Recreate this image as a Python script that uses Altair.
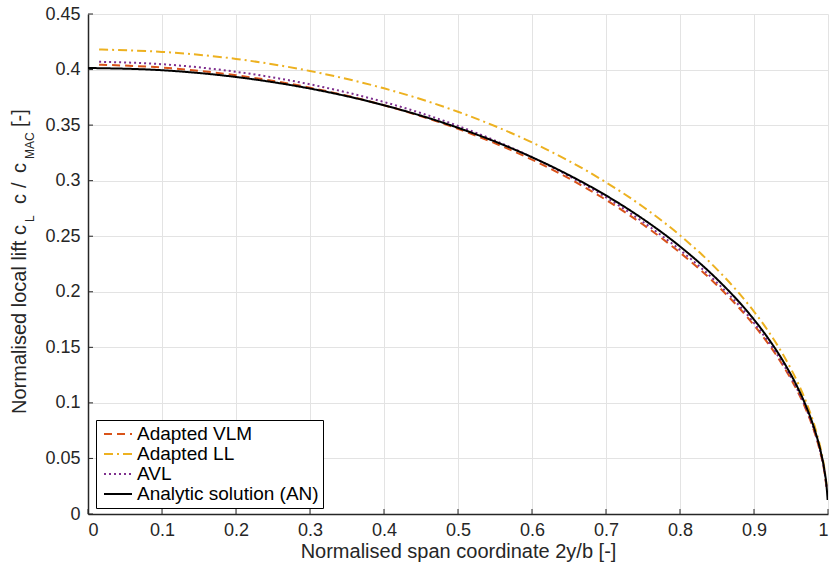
import altair as alt
import pandas as pd

series_names = ["Adapted VLM", "Adapted LL", "AVL", "Analytic solution (AN)"]
series_colors = ["#D95319", "#EDB120", "#7E2F8E", "#000000"]
series_dashes = [[8, 5], [9, 4, 2, 4], [2, 3], [1, 0]]

# numerical methods
x_num = [0.015, 0.1, 0.2, 0.3, 0.4, 0.5, 0.6, 0.65, 0.7, 0.75, 0.8, 0.85, 0.88,
         0.9, 0.92, 0.94, 0.96, 0.97, 0.98, 0.985, 0.99, 0.995, 0.998]
vlm = [0.4044, 0.4018, 0.3949, 0.3837, 0.3679, 0.3466, 0.3189, 0.3020, 0.2827,
       0.2605, 0.2353, 0.2059, 0.1854, 0.1699, 0.1526, 0.1327, 0.1088, 0.0944,
       0.0771, 0.0667, 0.0543, 0.0383, 0.0241]
ll = [0.4180, 0.4159, 0.4096, 0.3987, 0.3831, 0.3620, 0.3344, 0.3177, 0.2985,
      0.2765, 0.2508, 0.2202, 0.1985, 0.1822, 0.1638, 0.1426, 0.1170, 0.1016,
      0.0832, 0.0721, 0.0590, 0.0417, 0.0264]
avl = [0.4070, 0.4048, 0.3980, 0.3867, 0.3708, 0.3493, 0.3211, 0.3041, 0.2850,
       0.2628, 0.2377, 0.2082, 0.1876, 0.1720, 0.1545, 0.1343, 0.1102, 0.0955,
       0.0781, 0.0677, 0.0552, 0.0389, 0.0244]
# analytic solution
x_an = [0.0, 0.1, 0.2, 0.3, 0.4, 0.5, 0.6, 0.65, 0.7, 0.75, 0.8, 0.85, 0.88,
        0.9, 0.92, 0.94, 0.96, 0.97, 0.98, 0.985, 0.99, 0.995, 0.998, 0.9995]
an = [0.4014, 0.3994, 0.3933, 0.3829, 0.3679, 0.3476, 0.3211, 0.3050, 0.2867,
      0.2655, 0.2408, 0.2114, 0.1907, 0.1750, 0.1573, 0.1369, 0.1124, 0.0976,
      0.0799, 0.0693, 0.0566, 0.0401, 0.0254, 0.0127]

x_ticks = [0, 0.1, 0.2, 0.3, 0.4, 0.5, 0.6, 0.7, 0.8, 0.9, 1]
y_ticks = [0, 0.05, 0.1, 0.15, 0.2, 0.25, 0.3, 0.35, 0.4, 0.45]

x_title = "Normalised span coordinate 2y/b [-]"
y_title_parts = ["Normalised local lift c", "L", "c", "/", "c", "MAC", "[-]"]

rows = []
for name, xs, ys in [(series_names[0], x_num, vlm), (series_names[1], x_num, ll),
                     (series_names[2], x_num, avl), (series_names[3], x_an, an)]:
    for xv, yv in zip(xs, ys):
        rows.append({"x": xv, "y": yv, "series": name})
df = pd.DataFrame(rows)

FONT = "Liberation Sans"
DARK = "#262626"

xscale = alt.Scale(domain=[0, 1], nice=False, zero=False)
yscale = alt.Scale(domain=[0, 0.45], nice=False, zero=False)

xaxis = alt.Axis(values=x_ticks, format="~g", title=x_title,
                 labelPadding=7, titleY=43, titleBaseline="alphabetic")
yaxis = alt.Axis(values=y_ticks, format="~g", title=None, labelPadding=8)

legend = alt.Legend(
    title=None, orient="none", legendX=8, legendY=406,
    fillColor="white", strokeColor="black", padding=4,
    labelFont=FONT, labelFontSize=19, labelColor="black", labelOffset=4,
    symbolType="stroke", symbolSize=784, symbolStrokeWidth=2, symbolOffset=3,
    rowPadding=0, clipHeight=20, labelLimit=400,
)

lines = alt.Chart(df).mark_line(strokeWidth=2, clip=True, interpolate="monotone").encode(
    x=alt.X("x:Q", scale=xscale, axis=xaxis),
    y=alt.Y("y:Q", scale=yscale, axis=yaxis),
    color=alt.Color("series:N", scale=alt.Scale(domain=series_names, range=series_colors),
                    legend=legend),
    strokeDash=alt.StrokeDash("series:N", scale=alt.Scale(domain=series_names, range=series_dashes),
                              legend=legend),
)

xt = alt.Chart(pd.DataFrame({"x": x_ticks})).mark_rule(color=DARK, strokeWidth=1).encode(
    x=alt.X("x:Q", scale=xscale, axis=xaxis), y=alt.value(500), y2=alt.value(495))
yt = alt.Chart(pd.DataFrame({"y": y_ticks})).mark_rule(color=DARK, strokeWidth=1).encode(
    y=alt.Y("y:Q", scale=yscale, axis=yaxis), x=alt.value(0), x2=alt.value(5))

# y-axis title built from pieces (sub-scripts)
title_layout = [(-62, 400, 20), (-54, 208, 12), (-62, 190, 20), (-62, 174, 20),
                (-62, 159, 20), (-54, 145, 12), (-62, 113, 20)]
title_layers = []
for part, (px, py, fs) in zip(y_title_parts, title_layout):
    title_layers.append(
        alt.Chart(pd.DataFrame({"t": [part]})).mark_text(
            angle=270, align="left", baseline="alphabetic", font=FONT,
            fontSize=fs, color=DARK).encode(text="t:N", x=alt.value(px), y=alt.value(py)))

chart = alt.layer(xt, yt, lines, *title_layers).properties(
    width=740, height=500,
    padding={"left": 88, "top": 14, "right": 1, "bottom": 53},
    autosize=alt.AutoSizeParams(type="none"),
    background="white",
).configure_view(stroke=None).configure_axis(
    domainColor=DARK, domainWidth=1.5, ticks=False,
    gridColor="#e3e3e3", gridWidth=1,
    labelFont=FONT, labelFontSize=18, labelColor=DARK,
    titleFont=FONT, titleFontSize=20, titleColor=DARK, titleFontWeight="normal",
)

chart.save("out.html", embed_options={"renderer": "svg", "actions": False})
